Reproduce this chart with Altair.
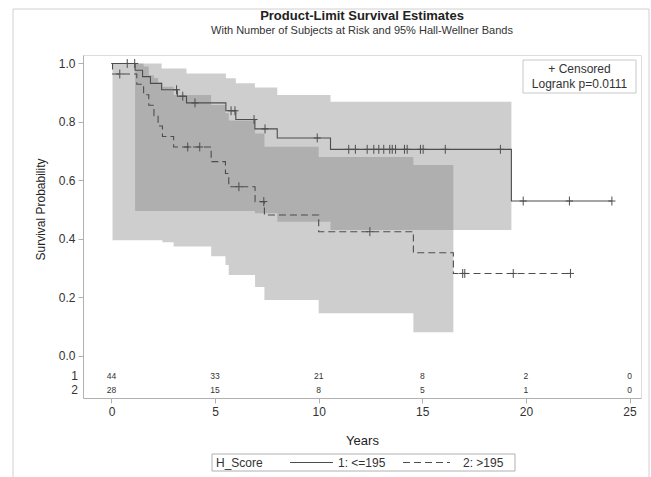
import altair as alt
import pandas as pd

# ---- Kaplan-Meier estimates, group 1 (H_Score <= 195) ----
g1_time = [0, 1.14, 1.5, 1.88, 2.42, 3.18, 3.62, 5.52, 6.0, 6.92, 8.0, 10.57, 19.3]
g1_surv = [1.0, 0.977, 0.955, 0.932, 0.91, 0.888, 0.865, 0.838, 0.808, 0.776, 0.745, 0.706, 0.529]
g1_end = 24.15
g1_censor = [0.76, 1.12, 3.14, 3.44, 4.03, 5.77, 5.96, 6.88, 7.41, 9.93, 11.45, 11.77,
             12.34, 12.66, 12.9, 13.14, 13.43, 13.55, 13.71, 14.14, 14.27, 14.91, 15.04,
             16.11, 18.77, 19.87, 22.1, 24.15]

# ---- Kaplan-Meier estimates, group 2 (H_Score > 195) ----
g2_time = [0, 0.05, 1.22, 1.55, 1.8, 2.05, 2.25, 2.46, 3.0, 4.81, 5.5, 5.66, 6.93, 7.38,
           10.0, 14.57, 16.5]
g2_surv = [1.0, 0.964, 0.929, 0.893, 0.857, 0.821, 0.786, 0.75, 0.714, 0.664, 0.623, 0.578,
           0.527, 0.481, 0.424, 0.352, 0.281]
g2_end = 22.15
g2_censor = [0.4, 3.68, 4.26, 6.15, 7.35, 12.47, 16.95, 17.05, 19.39, 22.15]

# ---- 95% Hall-Wellner bands ----
b1_time = [1.14, 2.42, 3.62, 5.52, 6.0, 6.92, 8.0, 10.57, 19.3]
b1_upper = [1.0, 0.983, 0.966, 0.949, 0.932, 0.918, 0.892, 0.869, 0.869]
b1_lower = [0.495, 0.495, 0.495, 0.495, 0.495, 0.487, 0.458, 0.43, 0.43]

b2_time = [0.05, 1.22, 1.55, 1.8, 2.05, 2.25, 2.46, 3.0, 4.81, 5.5, 5.66, 6.93, 7.38,
           10.0, 14.57, 16.5]
b2_upper = [1.0, 1.0, 0.99, 0.96, 0.95, 0.935, 0.92, 0.892, 0.858, 0.83, 0.805, 0.76,
            0.715, 0.68, 0.652, 0.652]
b2_lower = [0.395, 0.395, 0.395, 0.395, 0.395, 0.395, 0.388, 0.373, 0.34, 0.31, 0.276,
            0.235, 0.19, 0.145, 0.08, 0.08]

# ---- number at risk ----
risk_time = [0, 5, 10, 15, 20, 25]
risk_g1 = [44, 33, 21, 8, 2, 0]
risk_g2 = [28, 15, 8, 5, 1, 0]

labels = ["1: <=195", "2: >195"]
title_text = "Product-Limit Survival Estimates"
subtitle_text = "With Number of Subjects at Risk and 95% Hall-Wellner Bands"

FONT = "Liberation Sans"
INK = "#4d4d4d"
W, H = 558, 343
DASH = [7, 4]


def step_at(times, surv, t):
    val = surv[0]
    for ti, si in zip(times, surv):
        if ti <= t:
            val = si
    return val


curve_rows = []
for lab, times, surv, end in [(labels[0], g1_time, g1_surv, g1_end),
                              (labels[1], g2_time, g2_surv, g2_end)]:
    for t, s in zip(times, surv):
        curve_rows.append({"t": t, "s": s, "H_Score": lab})
    curve_rows.append({"t": end, "s": surv[-1], "H_Score": lab})
curves = pd.DataFrame(curve_rows)

cens_rows = []
for times, surv, cens in [(g1_time, g1_surv, g1_censor), (g2_time, g2_surv, g2_censor)]:
    for c in cens:
        cens_rows.append({"t": c, "s": step_at(times, surv, c)})
censored = pd.DataFrame(cens_rows)


def band_frame(times, lo, hi):
    return pd.DataFrame({"t": times, "lo": lo, "hi": hi})


one = pd.DataFrame({"k": [0]})

x_scale = alt.Scale(domain=[-1.375, 25.555], nice=False, zero=False)
y_scale = alt.Scale(domain=[-0.1455, 1.029], nice=False, zero=False)

x_axis = alt.Axis(values=risk_time, title="Years", grid=False, tickSize=5,
                  labelFontSize=12, titleFontSize=13, titleFontWeight="normal",
                  labelFont=FONT, titleFont=FONT, labelColor="#333", titleColor="#222",
                  domainColor="#b0b0b0", tickColor="#b0b0b0", labelPadding=3,
                  titleY=42, titleBaseline="middle")
y_axis = alt.Axis(values=[0, 0.2, 0.4, 0.6, 0.8, 1.0], format=".1f",
                  title="Survival Probability", grid=False, tickSize=5,
                  labelFontSize=12, titleFontSize=12, titleFontWeight="normal",
                  labelFont=FONT, titleFont=FONT, labelColor="#333", titleColor="#222",
                  domainColor="#b0b0b0", tickColor="#b0b0b0", labelPadding=3,
                  titleX=-43, titleY=154, titleBaseline="middle")

band_style = dict(interpolate="step-after", color="#7f7f7f", opacity=0.38)

band1 = alt.Chart(band_frame(b1_time, b1_lower, b1_upper)).mark_area(**band_style).encode(
    x=alt.X("t:Q", scale=x_scale, axis=x_axis),
    y=alt.Y("lo:Q", scale=y_scale, axis=y_axis),
    y2="hi:Q",
)
band2 = alt.Chart(band_frame(b2_time, b2_lower, b2_upper)).mark_area(**band_style).encode(
    x=alt.X("t:Q"), y=alt.Y("lo:Q"), y2="hi:Q"
)

lines = alt.Chart(curves).mark_line(interpolate="step-after", strokeWidth=1.1,
                                    color=INK).encode(
    x="t:Q",
    y="s:Q",
    strokeDash=alt.StrokeDash("H_Score:N",
                              scale=alt.Scale(domain=labels, range=[[1, 0], DASH]),
                              legend=None),
)

marks = alt.Chart(censored).mark_point(
    shape="M0,-1L0,1M-0.8,0L0.8,0", size=80, filled=False, strokeWidth=1,
    color=INK, opacity=1
).encode(x="t:Q", y="s:Q")

risk_df = pd.DataFrame({"t": risk_time, "n1": [str(v) for v in risk_g1],
                        "n2": [str(v) for v in risk_g2]})
risk_style = dict(fontSize=8.5, font=FONT, color="#333", baseline="middle")
risk1 = alt.Chart(risk_df).mark_text(**risk_style).encode(
    x="t:Q", y=alt.value(321), text="n1:N")
risk2 = alt.Chart(risk_df).mark_text(**risk_style).encode(
    x="t:Q", y=alt.value(335), text="n2:N")

row_style = dict(fontSize=12, font=FONT, color="#333", align="right", baseline="middle")
row1 = alt.Chart(one).mark_text(text="1", **row_style).encode(x=alt.value(-5), y=alt.value(321))
row2 = alt.Chart(one).mark_text(text="2", **row_style).encode(x=alt.value(-5), y=alt.value(335))

# title and subtitle above the plot
head_style = dict(font=FONT, align="center", baseline="middle")
title_mark = alt.Chart(one).mark_text(text=title_text, fontSize=13, fontWeight="bold",
                                      color="#222", **head_style).encode(
    x=alt.value(W / 2), y=alt.value(-39))
subtitle_mark = alt.Chart(one).mark_text(text=subtitle_text, fontSize=11, color="#333",
                                         **head_style).encode(
    x=alt.value(W / 2), y=alt.value(-24))

# inset box with the censoring key and log-rank test
inset_box = alt.Chart(one).mark_rect(fill="white", stroke="#c8c8c8", strokeWidth=1).encode(
    x=alt.value(440), x2=alt.value(553), y=alt.value(5), y2=alt.value(38))
inset_style = dict(fontSize=12, font=FONT, color="#333", align="center", baseline="middle")
inset1 = alt.Chart(one).mark_text(text="+ Censored", **inset_style).encode(
    x=alt.value(496.5), y=alt.value(14))
inset2 = alt.Chart(one).mark_text(text="Logrank p=0.0111", **inset_style).encode(
    x=alt.value(496.5), y=alt.value(29))

# legend for the two H_Score groups, below the x axis
leg_box = alt.Chart(one).mark_rect(fill="white", stroke="#b0b0b0", strokeWidth=1).encode(
    x=alt.value(129), x2=alt.value(432), y=alt.value(399), y2=alt.value(416))
leg_text_style = dict(fontSize=12, font=FONT, color="#333", align="left", baseline="middle")
leg_title = alt.Chart(one).mark_text(text="H_Score", **leg_text_style).encode(
    x=alt.value(133), y=alt.value(407.5))
leg_solid = alt.Chart(one).mark_rule(color=INK, strokeWidth=1).encode(
    x=alt.value(207), x2=alt.value(250), y=alt.value(407.5))
leg_lab1 = alt.Chart(one).mark_text(text=labels[0], **leg_text_style).encode(
    x=alt.value(255), y=alt.value(407.5))
leg_dash = alt.Chart(one).mark_rule(color=INK, strokeWidth=1, strokeDash=DASH).encode(
    x=alt.value(320), x2=alt.value(367), y=alt.value(407.5))
leg_lab2 = alt.Chart(one).mark_text(text=labels[1], **leg_text_style).encode(
    x=alt.value(380), y=alt.value(407.5))

# frame around the whole graph
outer = alt.Chart(one).mark_rect(fill=None, stroke="#d0d0d0", strokeWidth=1).encode(
    x=alt.value(-70), x2=alt.value(566), y=alt.value(-46), y2=alt.value(430))

chart = alt.layer(
    outer, band2, band1, lines, marks, risk1, risk2, row1, row2,
    inset_box, inset1, inset2, title_mark, subtitle_mark,
    leg_box, leg_title, leg_solid, leg_lab1, leg_dash, leg_lab2,
).properties(
    width=W, height=H,
    autosize=alt.AutoSizeParams(type="none"),
    padding={"left": 83, "top": 55, "right": 10, "bottom": 79},
).configure_view(stroke="#b0b0b0", strokeWidth=1).configure(background="white")

chart.save("out.html", embed_options={"renderer": "svg", "actions": False})
